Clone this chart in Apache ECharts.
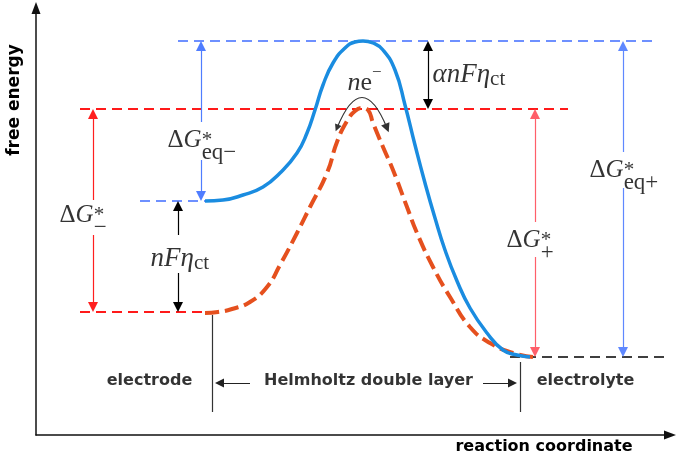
<!DOCTYPE html>
<html><head><meta charset="utf-8">
<script src="https://cdn.jsdelivr.net/npm/echarts@6/dist/echarts.min.js"></script>
<style>html,body{margin:0;padding:0;background:#fff}#c{width:678px;height:463px}</style>
</head><body><div id="c"></div>
<script>
// ---- data (chart units: x = reaction coordinate, y = free energy) ----
const blueCurveX = [169,187,207,227,244,261,271,279,287,297,309,319,327,337,347,359,369,379,389,399,409,421,434,451,467,481,494];
const blueCurveY = [234,235,240,248,262,282,302,325,350,372,387,393,394,392,385,365,330,290,252,217,185,154,127,102,85,80,78];
const redCurveX = [169,182,196,214,231,244,261,274,291,301,311,319,326,332,337,347,357,371,381,397,414,434,454,477,497];
const redCurveY = [122,123,126,133,148,170,202,228,262,293,314,324,327,325,312,288,265,228,202,168,138,108,92,82,78];
// energy levels (dashed lines): y value, start x, end x
const levelY      = [394, 326, 234, 123, 78];
const levelStartX = [142, 44, 104, 44, 474];
const levelEndX   = [616, 532, 169, 169, 629];
// vertical double arrows: x, from level, to level
const arrowX    = [165, 57, 142, 392, 499, 587];
const arrowTopY = [394, 326, 234, 394, 326, 394];
const arrowBotY = [234, 123, 123, 326, 78, 78];
// region boundaries (reaction coordinate) and their extents
const boundaryX = [176, 484];
const boundaryTopY = [120, 73];
const boundaryBotY = 23;

// ---- styles / layout ----
const arrowColors = ['#4f7dff', '#ff1f1f', '#000000', '#000000', '#ff5f6a', '#5f88ff'];
const arrowGaps = [[275,313],[200,235],[162,200],null,[178,213],[247,283]];
const levelColors = ['#3f6cff', '#ff1a1a', '#3f6cff', '#ff1a1a', '#000000'];
const levelWidths = [1.5, 2, 1.5, 2, 1.5];
const TIP = 5; // half arrow-head length

const series = [];
levelY.forEach((y, i) => {
  series.push({
    type: 'line', silent: true, symbol: 'none', z: 2,
    data: [[levelStartX[i], y], [levelEndX[i], y]],
    lineStyle: { color: levelColors[i], width: levelWidths[i], type: [10, 6] }
  });
});
series.push({
  type: 'line', silent: true, symbol: 'none', smooth: 0.5, z: 4,
  data: redCurveX.map((x, i) => [x, redCurveY[i]]),
  lineStyle: { color: '#e5501e', width: 4, type: [14, 6] }
});
series.push({
  type: 'line', silent: true, symbol: 'none', smooth: 0.5, z: 5,
  data: blueCurveX.map((x, i) => [x, blueCurveY[i]]),
  lineStyle: { color: '#1a8ce0', width: 3.5 }
});
arrowX.forEach((x, i) => {
  const top = arrowTopY[i] - TIP, bot = arrowBotY[i] + TIP;
  const g = arrowGaps[i];
  let segs;
  if (g) segs = [[[x, g[1]], [x, top]], [[x, g[0]], [x, bot]]];
  else { const m = (arrowTopY[i] + arrowBotY[i]) / 2; segs = [[[x, m], [x, top]], [[x, m], [x, bot]]]; }
  series.push({
    type: 'lines', coordinateSystem: 'cartesian2d', silent: true, z: 3,
    symbol: ['none', 'triangle'], symbolSize: [7, 10],
    lineStyle: { color: arrowColors[i], width: 1.2, opacity: 1, curveness: 0 },
    data: segs.map(s => ({ coords: s }))
  });
});
series.push({
  type: 'lines', coordinateSystem: 'cartesian2d', silent: true, z: 3,
  symbol: ['none', 'none'],
  lineStyle: { color: '#333', width: 1.2, opacity: 1 },
  data: boundaryX.map((x, i) => ({ coords: [[x, boundaryTopY[i]], [x, boundaryBotY]] }))
});
series.push({
  type: 'lines', coordinateSystem: 'cartesian2d', silent: true, z: 3,
  symbol: ['none', 'triangle'], symbolSize: [6, 9],
  lineStyle: { color: '#222', width: 1.2, opacity: 1 },
  data: [
    { coords: [[214, 52], [boundaryX[0] + 3 + 4.5, 52]] },
    { coords: [[447, 52], [boundaryX[1] - 3 - 4.5, 52]] }
  ]
});
series.push({
  type: 'lines', coordinateSystem: 'cartesian2d', silent: true, z: 6,
  symbol: ['triangle', 'triangle'], symbolSize: [7, 9],
  lineStyle: { color: '#333', width: 1.2, opacity: 1, curveness: 1.22 },
  data: [{ coords: [[301, 307], [351, 307]] }]
});

// ---- text ----
const serif = 'Liberation Serif';
const ink = '#000';
const rich = {
  D: { fontFamily: serif, fontSize: 25, lineHeight: 48, color: ink },
  I: { fontFamily: serif, fontStyle: 'italic', fontSize: 25, lineHeight: 48, color: ink },
  sup: { fontFamily: serif, fontSize: 21, lineHeight: 48, width: 0, color: ink },
  sub: { fontFamily: serif, fontSize: 23, lineHeight: 20, verticalAlign: 'bottom', color: ink },
  sub2: { fontFamily: serif, fontSize: 23, lineHeight: 30, verticalAlign: 'bottom', color: ink },
  J: { fontFamily: serif, fontStyle: 'italic', fontSize: 27, lineHeight: 30, color: ink },
  c: { fontFamily: serif, fontSize: 21, lineHeight: 20, verticalAlign: 'bottom', color: ink },
  N: { fontFamily: serif, fontStyle: 'italic', fontSize: 26, lineHeight: 38, color: ink },
  E: { fontFamily: serif, fontSize: 26, lineHeight: 38, color: ink },
  m: { fontFamily: serif, fontSize: 17, lineHeight: 20, verticalAlign: 'top', color: ink },
  B: { fontFamily: 'DejaVu Sans', fontWeight: 'bold', fontSize: 16, color: ink }
};
const textItems = [
  { p: [132, 294], a: 'left', t: '{D|Δ}{I|G}{sup|*}{sub|eq−}' },
  { p: [24, 219], a: 'left', t: '{D|Δ}{I|G}{sup|*}{sub|−}' },
  { p: [471, 194], a: 'left', t: '{D|Δ}{I|G}{sup|*}{sub2|+}' },
  { p: [554, 264], a: 'left', t: '{D|Δ}{I|G}{sup|*}{sub|eq+}' },
  { p: [115, 176], a: 'left', t: '{J|nFη}{c|ct}' },
  { p: [397, 360], a: 'left', t: '{J|αnFη}{c|ct}' },
  { p: [312, 351], a: 'left', t: '{N|n}{E|e}{m|−}' },
  { p: [114, 53.5], a: 'center', t: '{B|electrode}' },
  { p: [333, 53.5], a: 'center', t: '{B|Helmholtz double layer}' },
  { p: [550, 53.5], a: 'center', t: '{B|electrolyte}' }
];
series.push({
  type: 'scatter', silent: true, z: 8, symbolSize: 1,
  itemStyle: { color: 'rgba(0,0,0,0)' },
  data: textItems.map(d => ({
    value: d.p,
    label: { show: true, position: [0, 0], align: d.a, verticalAlign: 'middle', formatter: d.t, rich: rich, color: ink }
  }))
});

const chart = echarts.init(document.getElementById('c'), null, { renderer: 'canvas' });
chart.setOption({
  animation: false,
  backgroundColor: '#fff',
  grid: { left: 36, right: 8, top: 8, bottom: 28, containLabel: false, outerBoundsMode: 'none' },
  xAxis: {
    type: 'value', min: 0, max: 634,
    axisLine: { show: true, onZero: false, symbol: ['none', 'triangle'], symbolSize: [9, 12], lineStyle: { color: '#111', width: 1.5 } },
    axisTick: { show: false }, axisLabel: { show: false }, splitLine: { show: false }
  },
  yAxis: {
    type: 'value', min: 0, max: 427,
    axisLine: { show: true, onZero: false, symbol: ['none', 'triangle'], symbolSize: [9, 12], lineStyle: { color: '#111', width: 1.5 } },
    axisTick: { show: false }, axisLabel: { show: false }, splitLine: { show: false }
  },
  graphic: [
    { type: 'text', x: 15, y: 100, rotation: Math.PI / 2,
      style: { text: 'free energy', font: 'bold 17px "DejaVu Sans"', fill: ink, align: 'center', verticalAlign: 'middle' } },
    { type: 'text', x: 544, y: 447,
      style: { text: 'reaction coordinate', font: 'bold 16px "DejaVu Sans"', fill: ink, align: 'center', verticalAlign: 'middle' } }
  ],
  series: series
});
</script></body></html>
